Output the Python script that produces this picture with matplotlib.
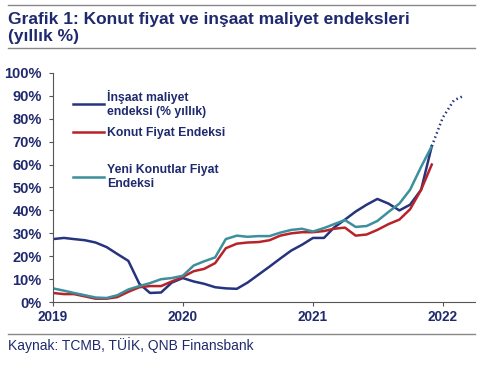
import matplotlib
matplotlib.use("Agg")
import matplotlib.pyplot as plt
import pandas as pd

plt.rcParams['font.family'] = ['Liberation Sans', 'DejaVu Sans']

NAVY = "#1f2a6e"
BLUE = "#26337f"
RED = "#b8232a"
TEAL = "#3c8f9b"

# monthly, Jan 2019 - Dec 2021
months = pd.date_range("2019-01-01", "2021-12-01", freq="MS")

insaat = [27.5, 28, 27.5, 27, 26, 24, 21, 18, 8, 4, 4.2, 8.5,
          10.5, 9, 8, 6.5, 6, 5.8, 8.5, 12, 15.5, 19, 22.5, 25,
          28, 28, 32.5, 36, 39.5, 42.5, 45, 43, 40, 42.5, 49, 68]

konut = [4, 3.5, 3.5, 2.5, 1.5, 1.5, 2.2, 4.5, 6.5, 7, 7, 9,
         11, 13.5, 14.5, 17, 23.5, 25.5, 26, 26.2, 27, 29, 30, 30.5,
         30.5, 31, 32, 32.5, 29, 29.5, 31.5, 34, 36, 40.5, 49, 60]

yeni = [6, 5, 4, 3, 2, 1.8, 3, 5.5, 7, 8.3, 10, 10.5,
        11.5, 16, 17.8, 19.5, 27.5, 29, 28.5, 28.8, 28.8, 30.3, 31.5, 32,
        30.8, 32.3, 34, 35.8, 32.8, 33.2, 35.4, 39.3, 43, 49, 59, 68]

# projection for construction cost index
proj_months = pd.date_range("2021-12-01", "2022-03-01", freq="MS")
proj_vals = [68, 80.5, 88, 90]

year_ticks = pd.to_datetime(["2019-01-01", "2020-01-01", "2021-01-01", "2022-01-01"])
year_labels = ["2019", "2020", "2021", "2022"]

fig = plt.figure(figsize=(4.9, 3.68), dpi=100)
ax = fig.add_axes([0.108, 0.179, 0.861, 0.623])

l1, = ax.plot(months, insaat, color=BLUE, lw=1.8)
l2, = ax.plot(months, konut, color=RED, lw=1.8)
l3, = ax.plot(months, yeni, color=TEAL, lw=1.8)
ax.plot(proj_months, proj_vals, color=BLUE, lw=1.8, linestyle=(0, (0.6, 1.2)))

ax.set_ylim(0, 100)
ax.set_yticks(range(0, 101, 10))
ax.set_yticklabels([f"{v}%" for v in range(0, 101, 10)])
ax.set_xlim(pd.Timestamp("2019-01-01"), pd.Timestamp("2022-04-01"))
ax.set_xticks(year_ticks)
ax.set_xticklabels(year_labels)

for s in ["top", "right"]:
    ax.spines[s].set_visible(False)
for s in ["left", "bottom"]:
    ax.spines[s].set_color("#555555")
    ax.spines[s].set_linewidth(0.8)
ax.tick_params(axis="both", colors="#555555", length=3, width=0.8, labelcolor=NAVY)
ax.tick_params(axis="y", labelsize=10.5, pad=5)
ax.tick_params(axis="x", labelsize=9.8, pad=3)
for lab in ax.get_xticklabels() + ax.get_yticklabels():
    lab.set_fontweight("bold")

leg_kw = dict(frameon=False, handlelength=2.6, handletextpad=0.2, labelspacing=0.75,
              prop={"weight": "bold", "size": 8.8}, labelcolor=NAVY, borderaxespad=0)
leg1 = ax.legend([l1, l2], ["İnşaat maliyet\nendeksi (% yıllık)", "Konut Fiyat Endeksi"],
                 loc="upper left", bbox_to_anchor=(0.035, 0.945), **leg_kw)
ax.add_artist(leg1)
ax.legend([l3], ["Yeni Konutlar Fiyat\nEndeksi"],
          loc="upper left", bbox_to_anchor=(0.035, 0.625), **leg_kw)

# title + rules
fig.add_artist(plt.Line2D([0.016, 0.97], [0.986, 0.986], color="#888888", lw=1))
fig.text(0.016, 0.968, "Grafik 1: Konut fiyat ve inşaat maliyet endeksleri\n(yıllık %)",
         color=NAVY, fontsize=12.5, fontweight="bold", va="top", ha="left", linespacing=1.15)
fig.add_artist(plt.Line2D([0.016, 0.97], [0.87, 0.87], color="#888888", lw=1))

fig.add_artist(plt.Line2D([0.016, 0.97], [0.092, 0.092], color="#888888", lw=1))
fig.text(0.016, 0.063, "Kaynak: TCMB, TÜİK, QNB Finansbank", color=NAVY, fontsize=10,
         va="center", ha="left")

fig.savefig("out.png", dpi=100)
